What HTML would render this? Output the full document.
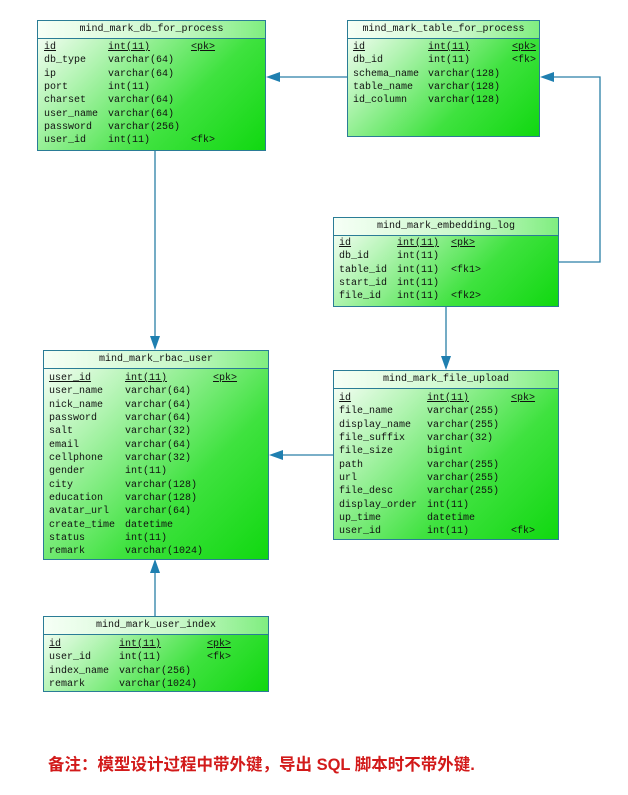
<!DOCTYPE html>
<html><head><meta charset="utf-8"><style>
body{margin:0;width:628px;height:795px;background:#fff;position:relative;overflow:hidden;font-family:"Liberation Mono",monospace;font-size:10px;color:#111}
.t{position:absolute;border:1px solid #2a7c96;background:linear-gradient(135deg,#ffffff 0%,#b8f5b8 25%,#3fe23f 65%,#10d810 100%);box-sizing:border-box}
.h{height:17px;line-height:17px;text-align:center;border-bottom:1px solid #2a7c96;background:linear-gradient(90deg,#f6fff6,#c8f8c8 60%,#80ee80)}
.r{position:relative;height:13.35px;line-height:13.35px;white-space:pre}
.r span{position:absolute;top:0}
.u{text-decoration:underline}
svg{position:absolute;left:0;top:0}
.note{position:absolute;left:48px;top:751px;font-family:"Liberation Sans","Noto Sans CJK SC",sans-serif;font-size:16.5px;font-weight:bold;color:#d21a1a}
</style></head><body>
<svg width="628" height="795">
<g stroke="#2a7fa6" stroke-width="1.3" fill="none">
<line x1="347" y1="77" x2="270" y2="77"/>
<line x1="155" y1="150" x2="155" y2="346"/>
<polyline points="559,262 600,262 600,77 544,77"/>
<line x1="446" y1="306" x2="446" y2="366"/>
<line x1="333" y1="455" x2="273" y2="455"/>
<line x1="155" y1="616" x2="155" y2="563"/>
</g>
<g fill="#1f7fb0">
<polygon points="266,77 280,72 280,82"/>
<polygon points="155,350 150,336 160,336"/>
<polygon points="540,77 554,72 554,82"/>
<polygon points="446,370 441,356 451,356"/>
<polygon points="269,455 283,450 283,460"/>
<polygon points="155,559 150,573 160,573"/>
</g>
</svg>

<div class="t" style="left:37px;top:20px;width:229px;height:131px">
<div class="h">mind_mark_db_for_process</div>
<div style="padding-top:2px">
<div class="r"><span class="u" style="left:6px">id</span><span class="u" style="left:70px">int(11)</span><span class="u" style="left:153px">&lt;pk&gt;</span></div>
<div class="r"><span style="left:6px">db_type</span><span style="left:70px">varchar(64)</span></div>
<div class="r"><span style="left:6px">ip</span><span style="left:70px">varchar(64)</span></div>
<div class="r"><span style="left:6px">port</span><span style="left:70px">int(11)</span></div>
<div class="r"><span style="left:6px">charset</span><span style="left:70px">varchar(64)</span></div>
<div class="r"><span style="left:6px">user_name</span><span style="left:70px">varchar(64)</span></div>
<div class="r"><span style="left:6px">password</span><span style="left:70px">varchar(256)</span></div>
<div class="r"><span style="left:6px">user_id</span><span style="left:70px">int(11)</span><span style="left:153px">&lt;fk&gt;</span></div>
</div></div>

<div class="t" style="left:347px;top:20px;width:193px;height:117px">
<div class="h">mind_mark_table_for_process</div>
<div style="padding-top:2px">
<div class="r"><span class="u" style="left:5px">id</span><span class="u" style="left:80px">int(11)</span><span class="u" style="left:164px">&lt;pk&gt;</span></div>
<div class="r"><span style="left:5px">db_id</span><span style="left:80px">int(11)</span><span style="left:164px">&lt;fk&gt;</span></div>
<div class="r"><span style="left:5px">schema_name</span><span style="left:80px">varchar(128)</span></div>
<div class="r"><span style="left:5px">table_name</span><span style="left:80px">varchar(128)</span></div>
<div class="r"><span style="left:5px">id_column</span><span style="left:80px">varchar(128)</span></div>
</div></div>

<div class="t" style="left:333px;top:217px;width:226px;height:90px">
<div class="h">mind_mark_embedding_log</div>
<div style="padding-top:1px">
<div class="r"><span class="u" style="left:5px">id</span><span class="u" style="left:63px">int(11)</span><span class="u" style="left:117px">&lt;pk&gt;</span></div>
<div class="r"><span style="left:5px">db_id</span><span style="left:63px">int(11)</span></div>
<div class="r"><span style="left:5px">table_id</span><span style="left:63px">int(11)</span><span style="left:117px">&lt;fk1&gt;</span></div>
<div class="r"><span style="left:5px">start_id</span><span style="left:63px">int(11)</span></div>
<div class="r"><span style="left:5px">file_id</span><span style="left:63px">int(11)</span><span style="left:117px">&lt;fk2&gt;</span></div>
</div></div>

<div class="t" style="left:43px;top:350px;width:226px;height:210px">
<div class="h">mind_mark_rbac_user</div>
<div style="padding-top:3px">
<div class="r"><span class="u" style="left:5px">user_id</span><span class="u" style="left:81px">int(11)</span><span class="u" style="left:169px">&lt;pk&gt;</span></div>
<div class="r"><span style="left:5px">user_name</span><span style="left:81px">varchar(64)</span></div>
<div class="r"><span style="left:5px">nick_name</span><span style="left:81px">varchar(64)</span></div>
<div class="r"><span style="left:5px">password</span><span style="left:81px">varchar(64)</span></div>
<div class="r"><span style="left:5px">salt</span><span style="left:81px">varchar(32)</span></div>
<div class="r"><span style="left:5px">email</span><span style="left:81px">varchar(64)</span></div>
<div class="r"><span style="left:5px">cellphone</span><span style="left:81px">varchar(32)</span></div>
<div class="r"><span style="left:5px">gender</span><span style="left:81px">int(11)</span></div>
<div class="r"><span style="left:5px">city</span><span style="left:81px">varchar(128)</span></div>
<div class="r"><span style="left:5px">education</span><span style="left:81px">varchar(128)</span></div>
<div class="r"><span style="left:5px">avatar_url</span><span style="left:81px">varchar(64)</span></div>
<div class="r"><span style="left:5px">create_time</span><span style="left:81px">datetime</span></div>
<div class="r"><span style="left:5px">status</span><span style="left:81px">int(11)</span></div>
<div class="r"><span style="left:5px">remark</span><span style="left:81px">varchar(1024)</span></div>
</div></div>

<div class="t" style="left:333px;top:370px;width:226px;height:170px">
<div class="h">mind_mark_file_upload</div>
<div style="padding-top:3px">
<div class="r"><span class="u" style="left:5px">id</span><span class="u" style="left:93px">int(11)</span><span class="u" style="left:177px">&lt;pk&gt;</span></div>
<div class="r"><span style="left:5px">file_name</span><span style="left:93px">varchar(255)</span></div>
<div class="r"><span style="left:5px">display_name</span><span style="left:93px">varchar(255)</span></div>
<div class="r"><span style="left:5px">file_suffix</span><span style="left:93px">varchar(32)</span></div>
<div class="r"><span style="left:5px">file_size</span><span style="left:93px">bigint</span></div>
<div class="r"><span style="left:5px">path</span><span style="left:93px">varchar(255)</span></div>
<div class="r"><span style="left:5px">url</span><span style="left:93px">varchar(255)</span></div>
<div class="r"><span style="left:5px">file_desc</span><span style="left:93px">varchar(255)</span></div>
<div class="r"><span style="left:5px">display_order</span><span style="left:93px">int(11)</span></div>
<div class="r"><span style="left:5px">up_time</span><span style="left:93px">datetime</span></div>
<div class="r"><span style="left:5px">user_id</span><span style="left:93px">int(11)</span><span style="left:177px">&lt;fk&gt;</span></div>
</div></div>

<div class="t" style="left:43px;top:616px;width:226px;height:76px">
<div class="h">mind_mark_user_index</div>
<div style="padding-top:3px">
<div class="r"><span class="u" style="left:5px">id</span><span class="u" style="left:75px">int(11)</span><span class="u" style="left:163px">&lt;pk&gt;</span></div>
<div class="r"><span style="left:5px">user_id</span><span style="left:75px">int(11)</span><span style="left:163px">&lt;fk&gt;</span></div>
<div class="r"><span style="left:5px">index_name</span><span style="left:75px">varchar(256)</span></div>
<div class="r"><span style="left:5px">remark</span><span style="left:75px">varchar(1024)</span></div>
</div></div>

<div class="note">备注：模型设计过程中带外键，导出 SQL 脚本时不带外键.</div>
</body></html>
